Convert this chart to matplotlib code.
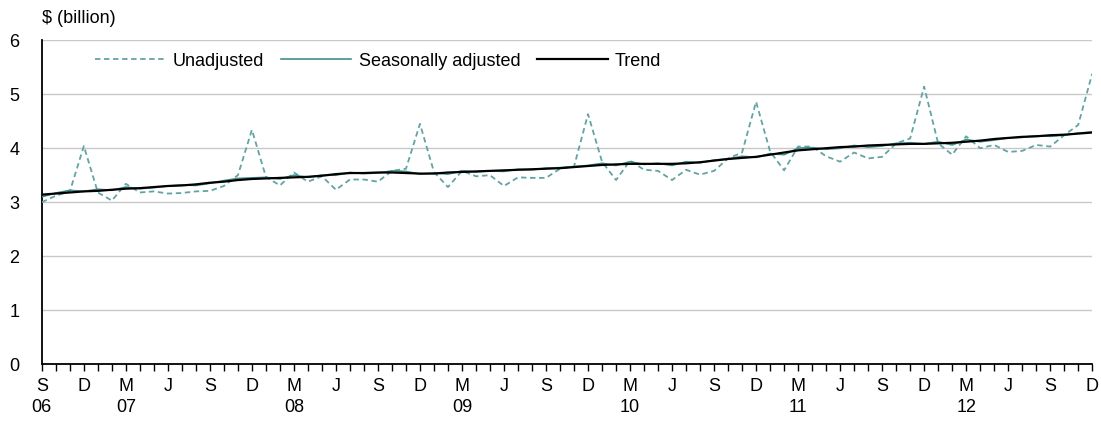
import matplotlib
matplotlib.use("Agg")
import matplotlib.pyplot as plt
import numpy as np

plt.rcParams["font.family"] = ["Liberation Sans", "DejaVu Sans"]

# Monthly data, Sep 2006 to Dec 2012
UNADJUSTED = [
    3.00, 3.12, 3.20, 4.04, 3.18, 3.03, 3.34, 3.18, 3.20, 3.16, 3.17, 3.20,
    3.21, 3.30, 3.50, 4.34, 3.47, 3.31, 3.55, 3.38, 3.48, 3.23, 3.42, 3.42,
    3.38, 3.58, 3.62, 4.45, 3.56, 3.28, 3.58, 3.48, 3.50, 3.30, 3.46, 3.45,
    3.45, 3.62, 3.66, 4.63, 3.75, 3.41, 3.77, 3.60, 3.58, 3.41, 3.60, 3.51,
    3.58, 3.81, 3.92, 4.86, 3.94, 3.59, 4.03, 4.03, 3.85, 3.75, 3.92, 3.81,
    3.84, 4.09, 4.18, 5.14, 4.09, 3.88, 4.22, 4.00, 4.06, 3.93, 3.95, 4.06,
    4.03, 4.24, 4.43, 5.38,
]
SEAS_ADJ = [
    3.10, 3.17, 3.22, 3.20, 3.24, 3.22, 3.28, 3.25, 3.27, 3.30, 3.32, 3.31,
    3.35, 3.40, 3.44, 3.45, 3.46, 3.43, 3.50, 3.46, 3.50, 3.50, 3.55, 3.53,
    3.54, 3.58, 3.57, 3.52, 3.54, 3.52, 3.58, 3.56, 3.58, 3.57, 3.61, 3.60,
    3.63, 3.64, 3.66, 3.68, 3.72, 3.68, 3.75, 3.70, 3.72, 3.68, 3.75, 3.73,
    3.78, 3.80, 3.85, 3.83, 3.90, 3.88, 4.00, 4.01, 3.98, 4.00, 4.05, 4.02,
    4.04, 4.09, 4.10, 4.08, 4.12, 4.06, 4.16, 4.12, 4.15, 4.19, 4.20, 4.23,
    4.22, 4.24, 4.28, 4.30,
]
TREND = [
    3.14, 3.16, 3.18, 3.20, 3.21, 3.23, 3.25, 3.26, 3.28, 3.30, 3.31, 3.33,
    3.36, 3.38, 3.41, 3.43, 3.44, 3.45, 3.46, 3.47, 3.49, 3.52, 3.54, 3.54,
    3.55, 3.55, 3.54, 3.53, 3.53, 3.55, 3.56, 3.57, 3.58, 3.59, 3.60, 3.61,
    3.62, 3.63, 3.65, 3.67, 3.69, 3.70, 3.71, 3.71, 3.71, 3.71, 3.72, 3.74,
    3.77, 3.80, 3.82, 3.84, 3.88, 3.92, 3.96, 3.98, 4.00, 4.02, 4.03, 4.05,
    4.06, 4.07, 4.08, 4.08, 4.09, 4.10, 4.12, 4.14, 4.17, 4.19, 4.21, 4.22,
    4.24, 4.25, 4.27, 4.29,
]
MONTH_LETTERS = ["S", "D", "M", "J"]  # quarterly tick labels starting Sep
YEAR_LABELS = {0: "06", 6: "07", 18: "08", 30: "09", 42: "10", 54: "11", 66: "12"}

TEAL_DASH = "#62a3a3"
TEAL = "#3f8f8c"
FS = 13

fig = plt.figure(figsize=(11.01, 4.23), dpi=100)
ax = fig.add_axes([0.038, 0.139, 0.954, 0.766])

x = np.arange(len(UNADJUSTED))
ax.plot(x, UNADJUSTED, color=TEAL_DASH, lw=1.3, linestyle=(0, (3, 2)),
        label="Unadjusted", zorder=3)
ax.plot(x, SEAS_ADJ, color=TEAL, lw=1.2, label="Seasonally adjusted", zorder=3)
ax.plot(x, TREND, color="black", lw=1.6, label="Trend", zorder=4)

ax.set_xlim(0, len(x) - 1)
ax.set_ylim(0, 6)
ax.set_yticks(range(0, 7))
ax.yaxis.grid(True, color="#c8c8c8", lw=1)
ax.set_axisbelow(True)
ax.tick_params(axis="y", length=0, pad=16, labelsize=FS)

labels = []
for i in x:
    if i % 3 == 0:
        lab = MONTH_LETTERS[(i // 3) % 4]
        if i in YEAR_LABELS:
            lab += "\n" + YEAR_LABELS[i]
        labels.append(lab)
    else:
        labels.append("")
ax.set_xticks(x)
ax.set_xticklabels(labels, linespacing=1.3, va="top")
ax.tick_params(axis="x", length=5, width=1, direction="out", pad=5,
               labelsize=FS, color="black")

for side in ["top", "right"]:
    ax.spines[side].set_visible(False)
ax.spines["left"].set_linewidth(1.3)
ax.spines["bottom"].set_linewidth(1.3)

ax.text(0, 6.24, "$ (billion)", fontsize=FS, ha="left", va="bottom",
        transform=ax.transData)

ax.legend(loc="upper left", bbox_to_anchor=(0.035, 1.012), ncol=3, frameon=False,
          fontsize=FS, handlelength=3.9, columnspacing=0.95, handletextpad=0.4)

fig.savefig("out.png", dpi=100)
